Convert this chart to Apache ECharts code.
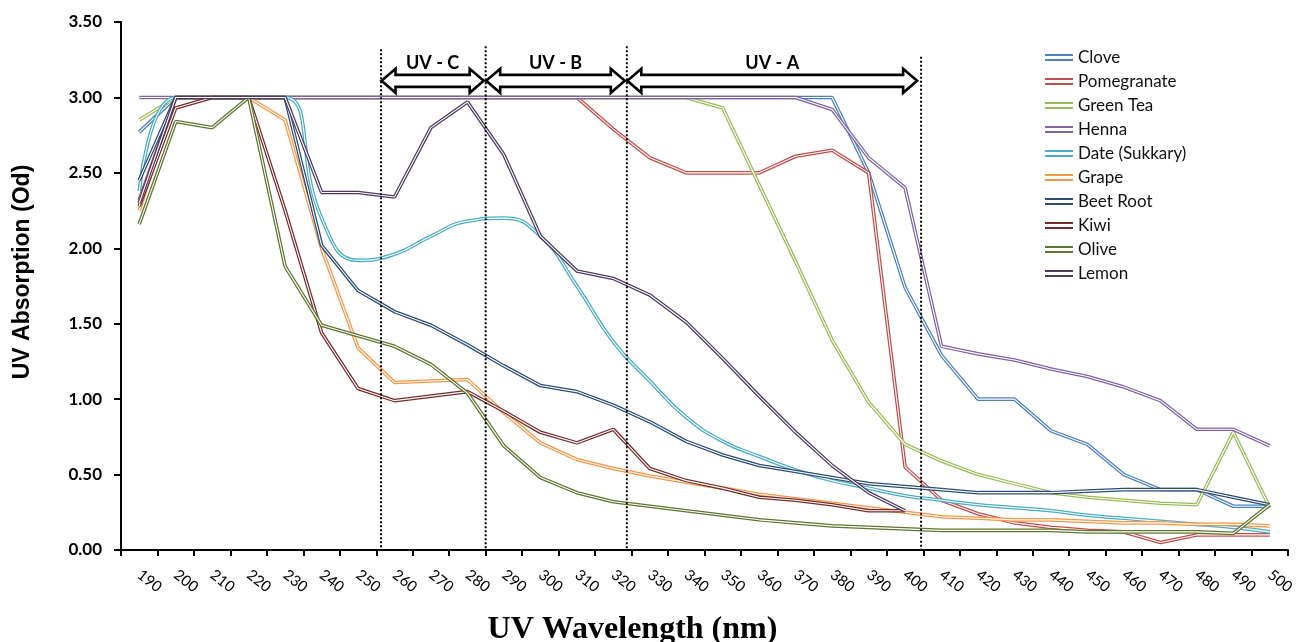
<!DOCTYPE html>
<html><head><meta charset="utf-8">
<script src="https://cdn.jsdelivr.net/npm/echarts@6/dist/echarts.min.js"></script>
<style>html,body{margin:0;padding:0;background:#fff}#c{width:1300px;height:642px}</style>
</head><body><div id="c"></div>
<script>
const wavelengths = ['190','200','210','220','230','240','250','260','270','280','290','300','310','320','330','340','350','360','370','380','390','400','410','420','430','440','450','460','470','480','490','500'];

const clove       = [2.77,3.0,3.0,3.0,3.0,3.0,3.0,3.0,3.0,3.0,3.0,3.0,3.0,3.0,3.0,3.0,3.0,3.0,3.0,3.0,2.5,1.74,1.29,1.0,1.0,0.79,0.70,0.50,0.40,0.40,0.29,0.29];
const pomegranate = [2.32,3.0,3.0,3.0,3.0,3.0,3.0,3.0,3.0,3.0,3.0,3.0,3.0,2.79,2.6,2.5,2.5,2.5,2.61,2.65,2.5,0.55,0.33,0.24,0.18,0.15,0.13,0.12,0.05,0.10,0.10,0.10];
const greenTea    = [2.85,3.0,3.0,3.0,3.0,3.0,3.0,3.0,3.0,3.0,3.0,3.0,3.0,3.0,3.0,3.0,2.93,2.42,1.91,1.39,0.98,0.70,0.59,0.50,0.44,0.38,0.35,0.33,0.31,0.30,0.78,0.28];
const henna       = [3.0,3.0,3.0,3.0,3.0,3.0,3.0,3.0,3.0,3.0,3.0,3.0,3.0,3.0,3.0,3.0,3.0,3.0,3.0,2.92,2.6,2.4,1.35,1.30,1.26,1.20,1.15,1.08,0.99,0.80,0.80,0.69];
const dateSukkary = [2.38,3.0,3.0,3.0,3.0,2.2,1.92,1.96,2.08,2.18,2.2,2.08,1.75,1.38,1.12,0.88,0.72,0.62,0.53,0.46,0.41,0.36,0.33,0.30,0.28,0.26,0.23,0.21,0.19,0.17,0.15,0.12];
const grape       = [2.25,3.0,3.0,3.0,2.85,2.0,1.34,1.11,1.12,1.13,0.91,0.71,0.60,0.54,0.49,0.45,0.41,0.37,0.34,0.31,0.28,0.25,0.22,0.21,0.20,0.20,0.19,0.18,0.18,0.17,0.17,0.16];
const beetRoot    = [2.45,3.0,3.0,3.0,3.0,2.02,1.72,1.58,1.49,1.36,1.22,1.09,1.05,0.96,0.85,0.72,0.63,0.56,0.52,0.48,0.44,0.42,0.40,0.38,0.38,0.38,0.39,0.40,0.40,0.40,0.35,0.30];
const kiwi        = [2.28,2.93,3.0,3.0,2.25,1.44,1.07,0.99,1.02,1.05,0.92,0.78,0.71,0.80,0.54,0.46,0.41,0.35,0.33,0.30,0.26,0.26,null,null,null,null,null,null,null,null,null,null];
const olive       = [2.16,2.84,2.80,3.0,1.88,1.49,1.42,1.35,1.23,1.04,0.69,0.48,0.38,0.32,0.29,0.26,0.23,0.20,0.18,0.16,0.15,0.14,0.13,0.13,0.13,0.13,0.12,0.12,0.12,0.12,0.11,0.30];
const lemon       = [2.30,3.0,3.0,3.0,3.0,2.37,2.37,2.34,2.80,2.97,2.62,2.08,1.85,1.80,1.69,1.51,1.27,1.02,0.78,0.56,0.38,0.26,null,null,null,null,null,null,null,null,null,null];

const seriesNames  = ['Clove','Pomegranate','Green Tea','Henna','Date (Sukkary)','Grape','Beet Root','Kiwi','Olive','Lemon'];
const seriesColors = ['#4F81BD','#C0504D','#9BBB59','#8064A2','#4BACC6','#F79646','#2C4D75','#772C2A','#5F7530','#4D3B62'];
const smoothSeries = ['Date (Sukkary)'];

// UV band boundaries, in band units along the wavelength axis (0 = left edge of 190 band)
const bandEdges  = [7.13, 10.0, 13.87, 21.94];
const edgeTops   = [3.32, 3.34, 3.34, 3.27];
const bandLabels = ['UV - C','UV - B','UV - A'];

const seriesData = [clove, pomegranate, greenTea, henna, dateSukkary, grape, beetRoot, kiwi, olive, lemon];

const chart = echarts.init(document.getElementById('c'));
const series = [];
seriesNames.forEach((n, i) => {
  const sm = smoothSeries.includes(n) ? 0.5 : false;
  series.push({
    name: n, type: 'line', data: seriesData[i], symbol: 'none', smooth: sm,
    color: seriesColors[i], itemStyle: {color: seriesColors[i]},
    lineStyle: {width: 3.6, color: seriesColors[i]},
    emphasis: {disabled: true}, animation: false
  });
  series.push({
    name: n + '\u200b', type: 'line', data: seriesData[i], symbol: 'none', smooth: sm,
    lineStyle: {width: 1.1, color: '#ffffff'}, itemStyle: {color: '#ffffff'},
    silent: true, emphasis: {disabled: true}, animation: false
  });
});

chart.setOption({
  backgroundColor: '#fff',
  animation: false,
  grid: {left: 121, right: 12, top: 22, bottom: 92, containLabel: false, outerBoundsMode: 'none'},
  legend: {
    data: seriesNames, orient: 'vertical', left: 1040, top: 44, itemGap: 7,
    icon: 'path://M0,0L40,0L40,3L0,3Z M0,7L40,7L40,10L0,10Z',
    itemWidth: 28, itemHeight: 7,
    textStyle: {fontFamily: 'Lato', fontSize: 17, color: '#111'}
  },
  xAxis: [{
    type: 'category', data: wavelengths, boundaryGap: true,
    axisLine: {lineStyle: {color: '#000', width: 2}},
    axisTick: {show: true, length: 6, interval: 0, lineStyle: {color: '#000', width: 2}},
    axisLabel: {interval: 0, rotate: -38, fontFamily: 'Lato', fontSize: 15, color: '#000', margin: 23},
    splitLine: {show: false},
    name: 'UV Wavelength (nm)', nameLocation: 'middle', nameGap: 64,
    nameTextStyle: {fontFamily: 'Liberation Serif', fontWeight: 'bold', fontSize: 32, color: '#000', padding: [0, 144, 0, 0]}
  }, {
    type: 'value', min: 0, max: wavelengths.length, show: false
  }],
  yAxis: {
    type: 'value', min: 0, max: 3.5, interval: 0.5,
    axisLine: {show: true, lineStyle: {color: '#000', width: 2}},
    axisTick: {show: true, length: 7, lineStyle: {color: '#000', width: 2}},
    axisLabel: {formatter: v => v.toFixed(2), fontFamily: 'Lato', fontWeight: 'bold', fontSize: 17, color: '#000', margin: 19},
    splitLine: {show: false},
    name: 'UV Absorption (Od)', nameLocation: 'middle', nameGap: 87,
    nameTextStyle: {fontFamily: 'Liberation Sans', fontWeight: 'bold', fontSize: 23, color: '#000', padding: [0, 0, 0, 28]}
  },
  series: series
});

// annotations: dotted band boundaries and double-headed arrows
function px(v, y) { return chart.convertToPixel({xAxisIndex: 1, yAxisIndex: 0}, [v, y]); }
const g = [];
bandEdges.forEach((e, i) => {
  const top = px(e, edgeTops[i]);
  const bot = px(e, 0);
  g.push({type: 'line', shape: {x1: top[0], y1: top[1], x2: bot[0], y2: bot[1]},
    style: {stroke: '#000', lineWidth: 2, lineDash: [2, 2]}, z: 50});
});
const arrowY = 3.11, labelY = 3.23;
bandLabels.forEach((lab, i) => {
  const L = px(bandEdges[i], arrowY)[0] + 0.5;
  const R = px(bandEdges[i + 1], arrowY)[0] - (i === 2 ? 4 : 2);
  const cy = px(bandEdges[i], arrowY)[1];
  const h = 14, H = 12, s = 6;
  g.push({type: 'polygon', shape: {points: [
    [L, cy], [L + h, cy - H], [L + h, cy - s], [R - h, cy - s], [R - h, cy - H], [R, cy],
    [R - h, cy + H], [R - h, cy + s], [L + h, cy + s], [L + h, cy + H]]},
    style: {fill: '#fff', stroke: '#000', lineWidth: 2.6, lineJoin: 'miter'}, z: 60});
  const ty = px(bandEdges[i], labelY)[1];
  g.push({type: 'text', x: (L + R) / 2, y: ty, style: {text: lab, align: 'center', verticalAlign: 'middle',
    font: 'bold 18px Lato', fill: '#000'}, z: 60});
});
chart.setOption({graphic: g});
</script>
</body></html>
